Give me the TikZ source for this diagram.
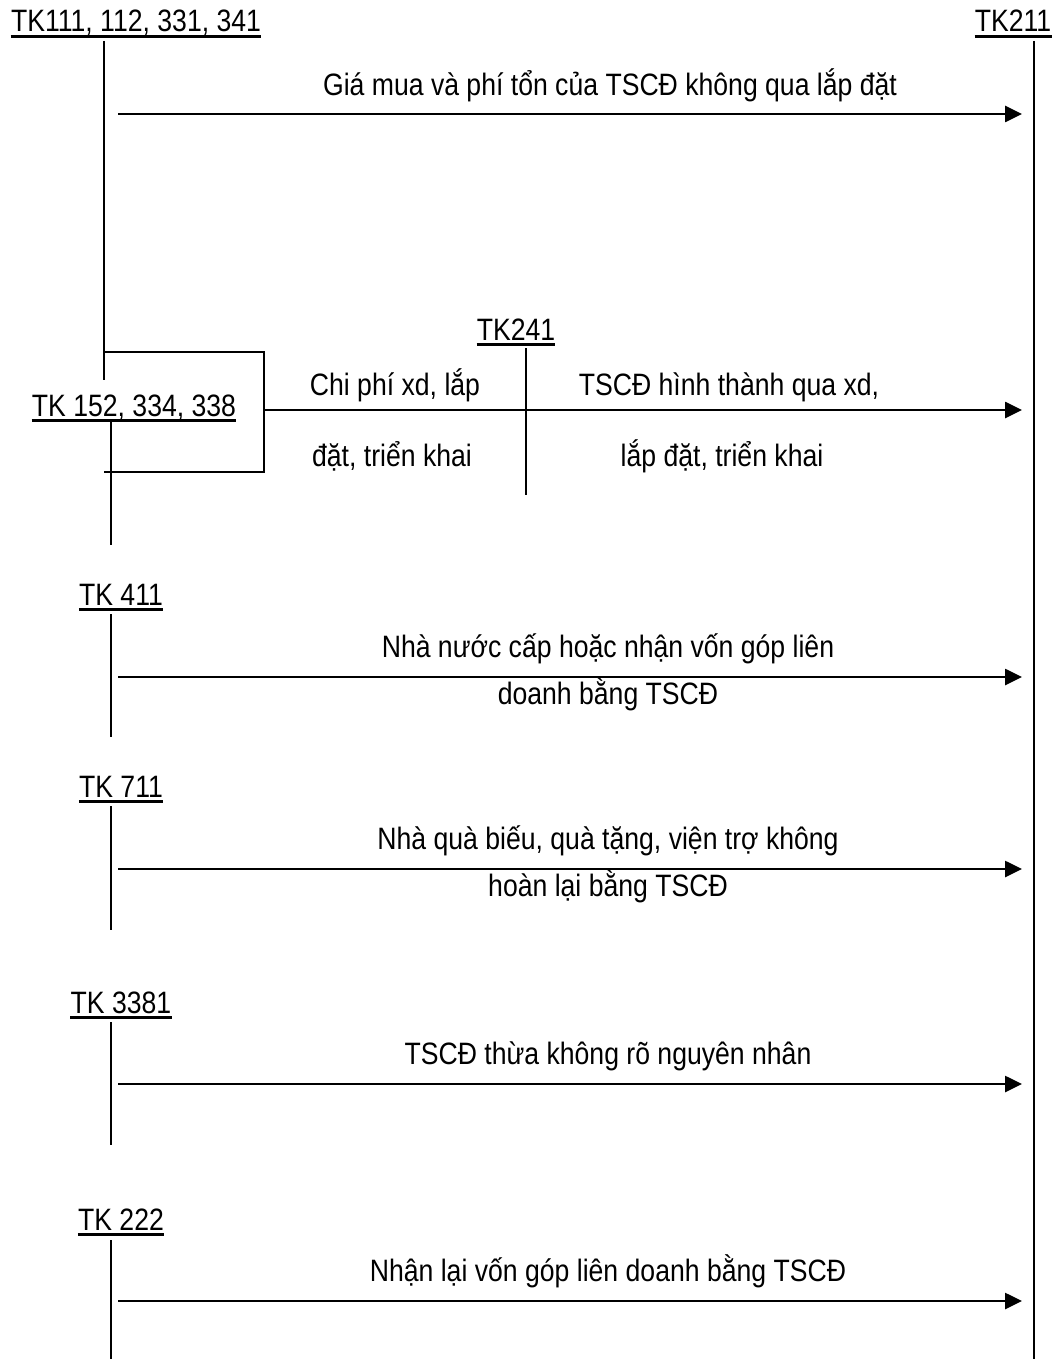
\documentclass[tikz,border=0pt]{standalone}
\usepackage{fontspec}
\setmainfont{Liberation Sans}
\newfontfamily\narrowsans{Liberation Sans}[FakeStretch=0.86]
\usetikzlibrary{arrows.meta}

\begin{document}
\begin{tikzpicture}[x=0.025cm,y=-0.025cm,
  acct/.style={inner sep=0pt,text depth=0.28em,font=\narrowsans\fontsize{22}{26}\selectfont,anchor=base},
  txt/.style={inner sep=0pt,font=\narrowsans\fontsize{22}{26}\selectfont,anchor=base},
  uline/.style={line width=2.2pt},
  tline/.style={line width=1.4pt},
  flow/.style={line width=1.4pt,-{Triangle[length=4.2mm,width=4mm]}}]
\useasboundingbox (0,0) rectangle (1057,1359);
% account names
\node[acct] (tk111) at (136,32) {TK111, 112, 331, 341};
\node[acct] (tk211) at (1013,32) {TK211};
\node[acct] (tk241) at (516,340) {TK241};
\node[acct] (tk152) at (134,416) {TK 152, 334, 338};
\node[acct] (tk411) at (121,605) {TK 411};
\node[acct] (tk711) at (121,797) {TK 711};
\node[acct] (tk3381) at (121,1013) {TK 3381};
\node[acct] (tk222) at (121,1230) {TK 222};
\foreach \n in {tk111,tk211,tk241,tk152,tk411,tk711,tk3381,tk222}
  \draw[uline] (\n.south west) -- (\n.south east);
% stems of the T accounts
\coordinate (A1) at (104,41);  \coordinate (A2) at (104,380);
\coordinate (B1) at (1034,41); \coordinate (B2) at (1034,1359);
\coordinate (C1) at (526,348); \coordinate (C2) at (526,495);
\coordinate (D1) at (111,422); \coordinate (D2) at (111,545);
\coordinate (E1) at (111,614); \coordinate (E2) at (111,737);
\coordinate (F1) at (111,806); \coordinate (F2) at (111,930);
\coordinate (G1) at (111,1022); \coordinate (G2) at (111,1145);
\coordinate (H1) at (111,1240); \coordinate (H2) at (111,1359);
\draw[tline] (A1)--(A2) (B1)--(B2) (C1)--(C2) (D1)--(D2)
  (E1)--(E2) (F1)--(F2) (G1)--(G2) (H1)--(H2);
% bracket from TK111 and TK152 into TK241
\coordinate (K1) at (104,352);
\coordinate (K2) at (264,352);
\coordinate (K3) at (264,472);
\coordinate (K4) at (104,472);
\coordinate (K5) at (264,410);
\coordinate (K6) at (526,410);
\draw[tline] (K1)--(K2)--(K3)--(K4);
\draw[tline] (K5)--(K6);
% flows into TK211
\coordinate (s1) at (118,114);  \coordinate (e1) at (1022,114);
\coordinate (e2) at (1022,410);
\coordinate (s3) at (118,677);  \coordinate (e3) at (1022,677);
\coordinate (s4) at (118,869);  \coordinate (e4) at (1022,869);
\coordinate (s5) at (118,1084); \coordinate (e5) at (1022,1084);
\coordinate (s6) at (118,1301); \coordinate (e6) at (1022,1301);
\draw[flow] (s1)--(e1);
\draw[flow] (K6)--(e2);
\draw[flow] (s3)--(e3);
\draw[flow] (s4)--(e4);
\draw[flow] (s5)--(e5);
\draw[flow] (s6)--(e6);
% texts
\node[txt] (t1) at (610,96) {Giá mua và phí tổn của TSCĐ không qua lắp đặt};
\node[txt] (t2a) at (395,395) {Chi phí xd, lắp};
\node[txt] (t2b) at (392,466) {đặt, triển khai};
\node[txt] (t2c) at (729,395) {TSCĐ hình thành qua xd,};
\node[txt] (t2d) at (722,466) {lắp đặt, triển khai};
\node[txt] (t3a) at (608,657) {Nhà nước cấp hoặc nhận vốn góp liên};
\node[txt] (t3b) at (608,704) {doanh bằng TSCĐ};
\node[txt] (t4a) at (608,849) {Nhà quà biếu, quà tặng, viện trợ không};
\node[txt] (t4b) at (608,896) {hoàn lại bằng TSCĐ};
\node[txt] (t5) at (608,1064) {TSCĐ thừa không rõ nguyên nhân};
\node[txt] (t6) at (608,1281) {Nhận lại vốn góp liên doanh bằng TSCĐ};
\end{tikzpicture}
\end{document}
